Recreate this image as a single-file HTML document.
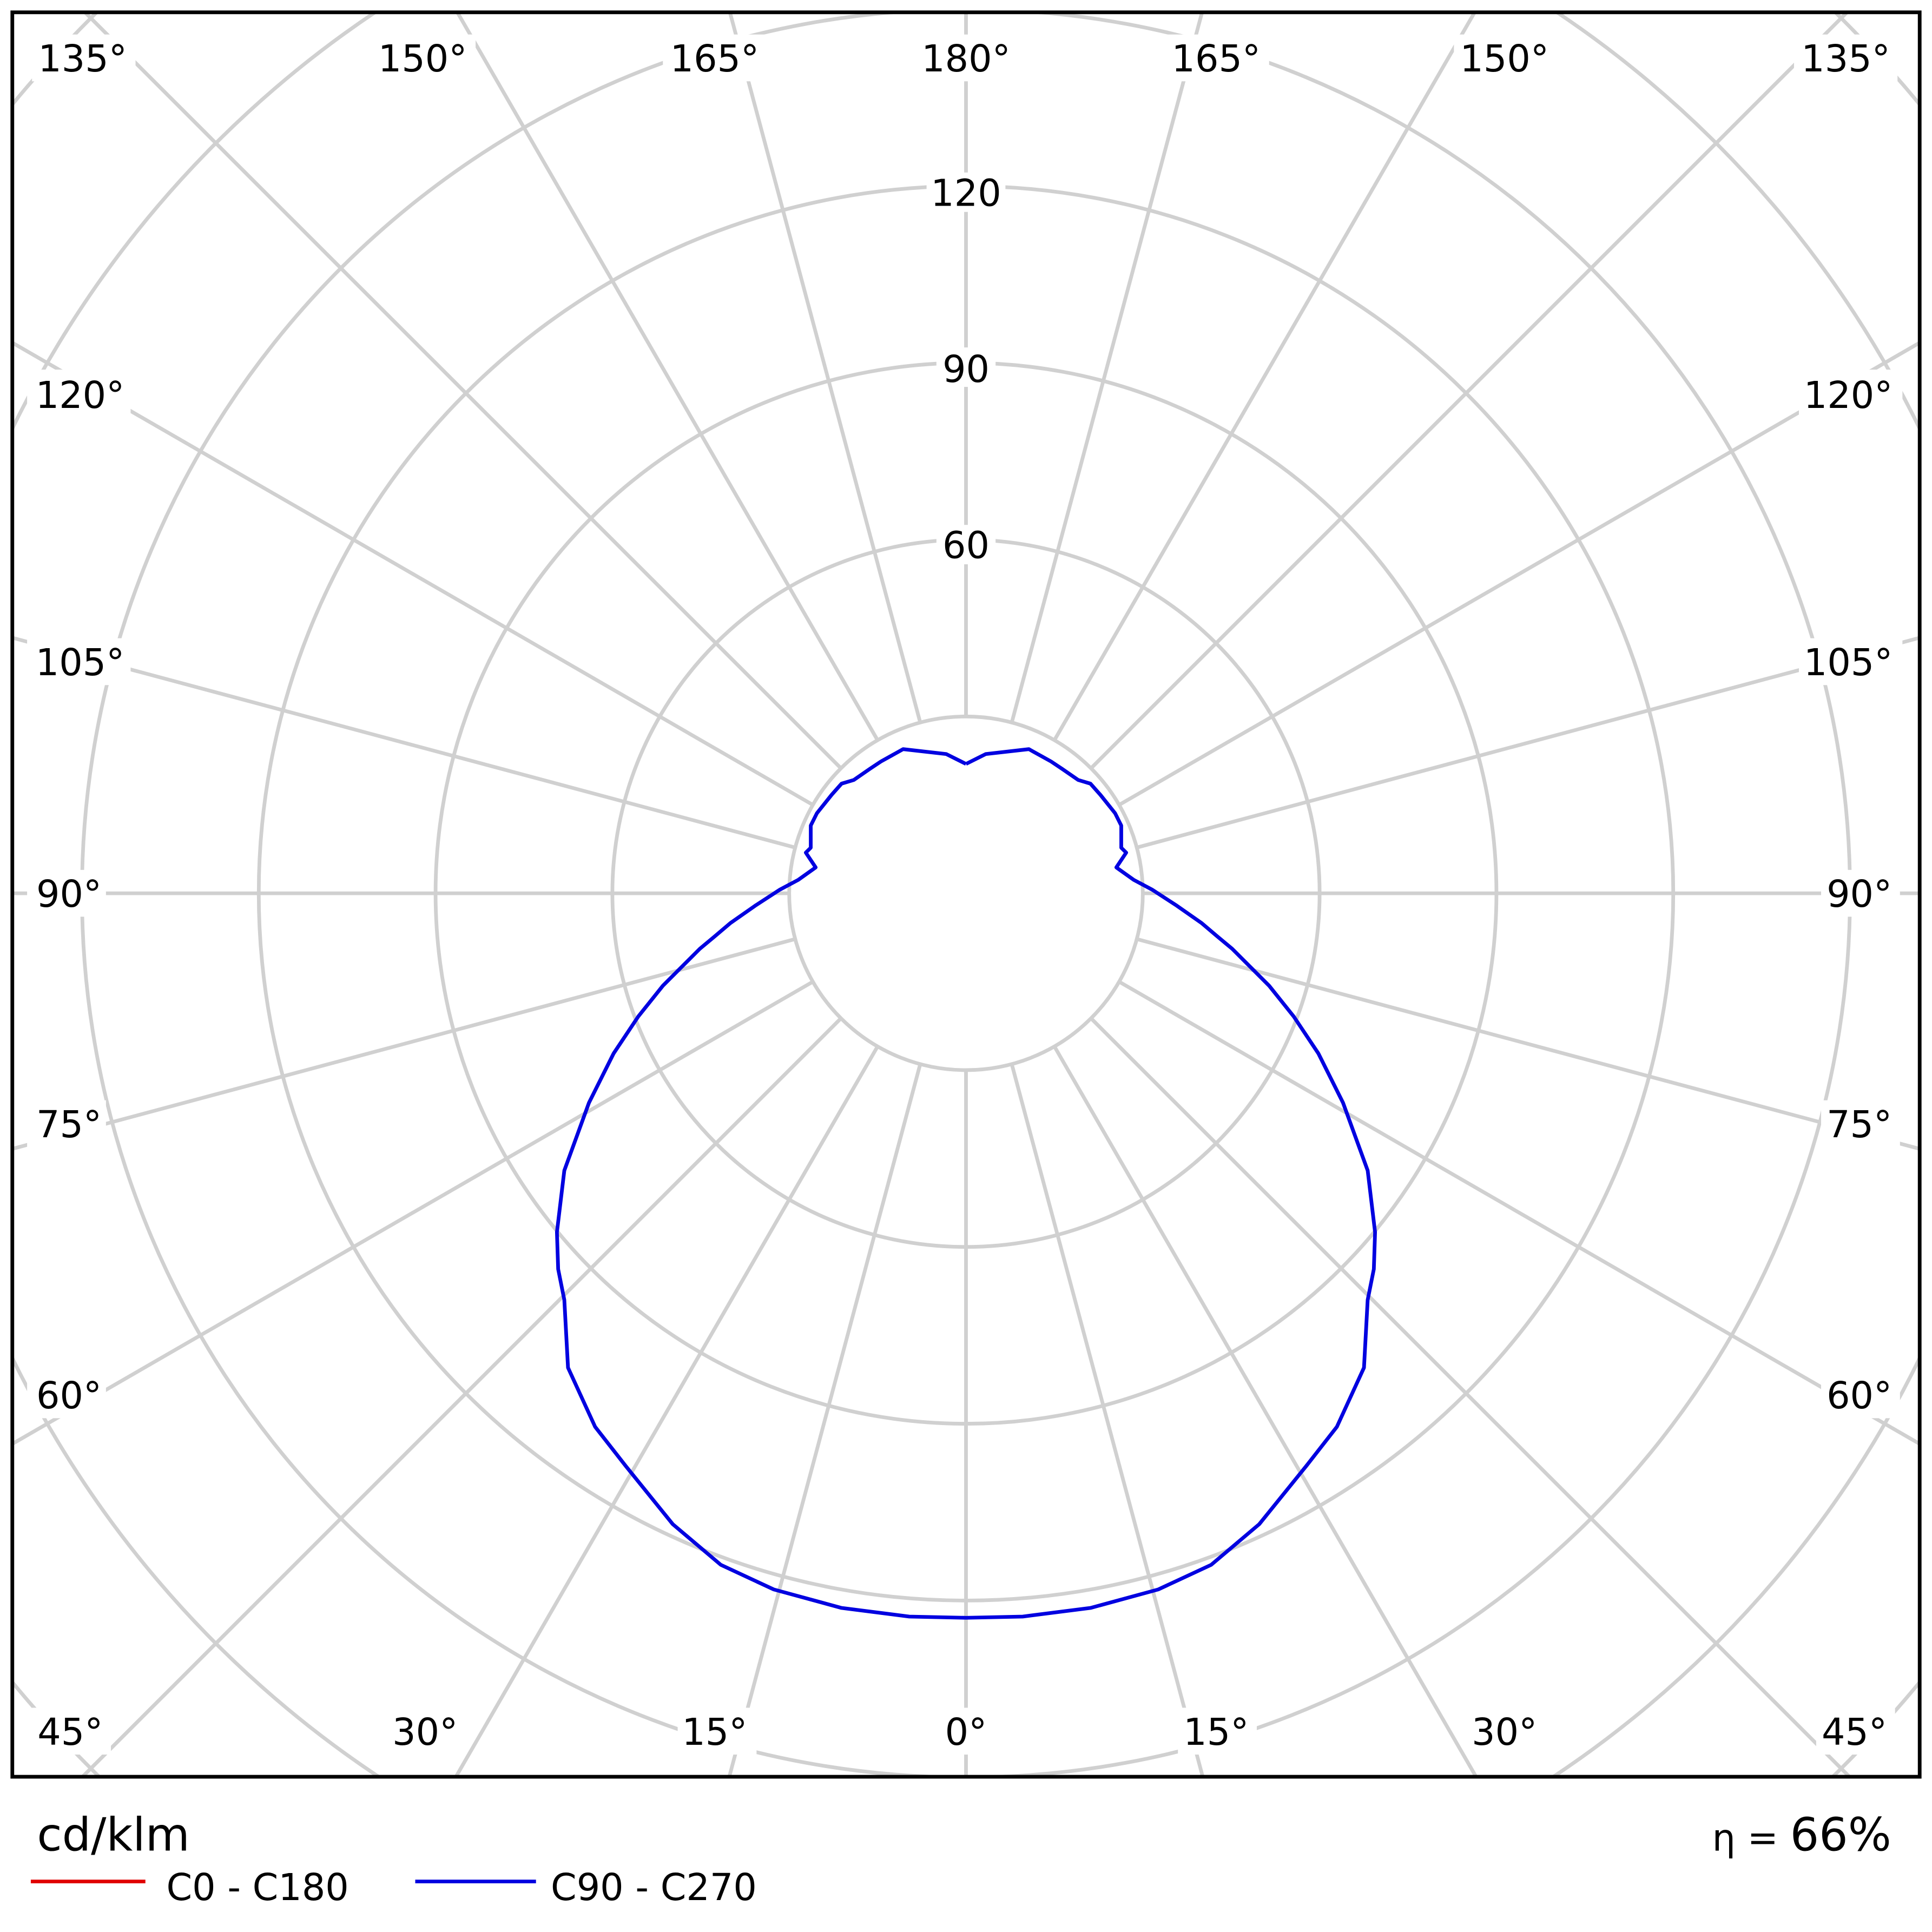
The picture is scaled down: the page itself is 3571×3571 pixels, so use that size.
<!DOCTYPE html>
<html><head><style>html,body{margin:0;padding:0;background:#fff;width:3571px;height:3571px;overflow:hidden}svg{display:block}</style></head><body>
<svg width="3571" height="3571" viewBox="0 0 1568 1568" xmlns="http://www.w3.org/2000/svg" font-family="'DejaVu Sans','Liberation Sans',sans-serif">
<defs><clipPath id="c"><rect x="10" y="10" width="1548" height="1432"/></clipPath></defs>
<rect width="1568" height="1568" fill="#fff"/>
<g clip-path="url(#c)" stroke="#d0d0d0" stroke-width="3" fill="none">
<circle cx="784" cy="725" r="143.5"/><circle cx="784" cy="725" r="287"/><circle cx="784" cy="725" r="430.5"/>
<circle cx="784" cy="725" r="574"/><circle cx="784" cy="725" r="717.5"/><circle cx="784" cy="725" r="861"/><circle cx="784" cy="725" r="1004.5"/>
<g>
<line x1="784" y1="868.5" x2="784" y2="2000"/>
<line x1="784" y1="868.5" x2="784" y2="2000" transform="rotate(15 784 725)"/>
<line x1="784" y1="868.5" x2="784" y2="2000" transform="rotate(30 784 725)"/>
<line x1="784" y1="868.5" x2="784" y2="2000" transform="rotate(45 784 725)"/>
<line x1="784" y1="868.5" x2="784" y2="2000" transform="rotate(60 784 725)"/>
<line x1="784" y1="868.5" x2="784" y2="2000" transform="rotate(75 784 725)"/>
<line x1="784" y1="868.5" x2="784" y2="2000" transform="rotate(90 784 725)"/>
<line x1="784" y1="868.5" x2="784" y2="2000" transform="rotate(105 784 725)"/>
<line x1="784" y1="868.5" x2="784" y2="2000" transform="rotate(120 784 725)"/>
<line x1="784" y1="868.5" x2="784" y2="2000" transform="rotate(135 784 725)"/>
<line x1="784" y1="868.5" x2="784" y2="2000" transform="rotate(150 784 725)"/>
<line x1="784" y1="868.5" x2="784" y2="2000" transform="rotate(165 784 725)"/>
<line x1="784" y1="868.5" x2="784" y2="2000" transform="rotate(180 784 725)"/>
<line x1="784" y1="868.5" x2="784" y2="2000" transform="rotate(195 784 725)"/>
<line x1="784" y1="868.5" x2="784" y2="2000" transform="rotate(210 784 725)"/>
<line x1="784" y1="868.5" x2="784" y2="2000" transform="rotate(225 784 725)"/>
<line x1="784" y1="868.5" x2="784" y2="2000" transform="rotate(240 784 725)"/>
<line x1="784" y1="868.5" x2="784" y2="2000" transform="rotate(255 784 725)"/>
<line x1="784" y1="868.5" x2="784" y2="2000" transform="rotate(270 784 725)"/>
<line x1="784" y1="868.5" x2="784" y2="2000" transform="rotate(285 784 725)"/>
<line x1="784" y1="868.5" x2="784" y2="2000" transform="rotate(300 784 725)"/>
<line x1="784" y1="868.5" x2="784" y2="2000" transform="rotate(315 784 725)"/>
<line x1="784" y1="868.5" x2="784" y2="2000" transform="rotate(330 784 725)"/>
<line x1="784" y1="868.5" x2="784" y2="2000" transform="rotate(345 784 725)"/>
</g>
</g>
<g fill="#fff">
<rect x="752" y="140" width="64" height="32"/><rect x="760" y="282" width="48" height="32"/><rect x="760" y="426" width="48" height="32"/>
<rect x="26" y="28" width="84" height="38"/><rect x="302" y="28" width="84" height="38"/><rect x="538" y="28" width="84" height="38"/><rect x="742" y="28" width="84" height="38"/><rect x="946" y="28" width="84" height="38"/><rect x="1180" y="28" width="84" height="38"/><rect x="1456" y="28" width="84" height="38"/>
<rect x="22" y="300" width="84" height="38"/><rect x="22" y="518" width="84" height="38"/><rect x="22" y="706" width="64" height="38"/><rect x="22" y="893" width="64" height="38"/><rect x="22" y="1113" width="64" height="38"/>
<rect x="1460" y="300" width="84" height="38"/><rect x="1460" y="518" width="84" height="38"/><rect x="1478" y="706" width="64" height="38"/><rect x="1478" y="893" width="64" height="38"/><rect x="1478" y="1113" width="64" height="38"/>
<rect x="26" y="1386" width="64" height="38"/><rect x="314" y="1386" width="64" height="38"/><rect x="550" y="1386" width="64" height="38"/><rect x="760" y="1386" width="48" height="38"/><rect x="956" y="1386" width="64" height="38"/><rect x="1190" y="1386" width="64" height="38"/><rect x="1474" y="1386" width="64" height="38"/>
</g>
<g font-size="30" fill="#000" text-anchor="middle">
<text x="784" y="167">120</text><text x="784" y="310">90</text><text x="784" y="453">60</text>
<text x="67" y="58">135°</text><text x="343" y="58">150°</text><text x="580" y="58">165°</text><text x="784" y="58">180°</text><text x="987" y="58">165°</text><text x="1221" y="58">150°</text><text x="1498" y="58">135°</text>
<text x="65" y="331">120°</text><text x="65" y="548">105°</text><text x="56" y="736">90°</text><text x="56" y="923">75°</text><text x="56" y="1143">60°</text>
<text x="1500" y="331">120°</text><text x="1500" y="548">105°</text><text x="1509" y="736">90°</text><text x="1509" y="923">75°</text><text x="1509" y="1143">60°</text>
<text x="57" y="1416">45°</text><text x="345" y="1416">30°</text><text x="580" y="1416">15°</text><text x="784" y="1416">0°</text><text x="987" y="1416">15°</text><text x="1221" y="1416">30°</text><text x="1505" y="1416">45°</text>
</g>
<polyline fill="none" stroke="#0000e0" stroke-width="3" stroke-linejoin="round" points="784,620 800,612 835,608 853,618 862,624 875,633 885,636 893,645 905,660 910,670 910,688 914,692 906,704 920,714 935,722 955,735 975,749 988,760 1000,770 1030,800 1050,825 1070,855 1090,895 1110,950 1116,1000 1115,1030 1110,1055 1107,1110 1085,1158 1060,1190 1022,1237 983,1270 940,1290 885,1305 830,1312 784,1313 738,1312 683,1305 628,1290 585,1270 546,1237 508,1190 483,1158 461,1110 458,1055 453,1030 452,1000 458,950 478,895 498,855 518,825 538,800 568,770 580,760 593,749 613,735 633,722 648,714 662,704 654,692 658,688 658,670 663,660 675,645 683,636 693,633 706,624 715,618 733,608 768,612 784,620"/>
<rect x="10" y="10" width="1548" height="1432" fill="none" stroke="#000" stroke-width="3"/>
<text x="30" y="1502" font-size="37">cd/klm</text>
<line x1="25" y1="1527" x2="118" y2="1527" stroke="#e00000" stroke-width="3"/>
<text x="135" y="1542" font-size="30">C0 - C180</text>
<line x1="337" y1="1527" x2="435" y2="1527" stroke="#0000e0" stroke-width="3"/>
<text x="447" y="1542" font-size="30">C90 - C270</text>
<text x="1535" y="1502" font-size="37" text-anchor="end"><tspan font-size="30">η = </tspan>66%</text>
</svg>
</body></html>
